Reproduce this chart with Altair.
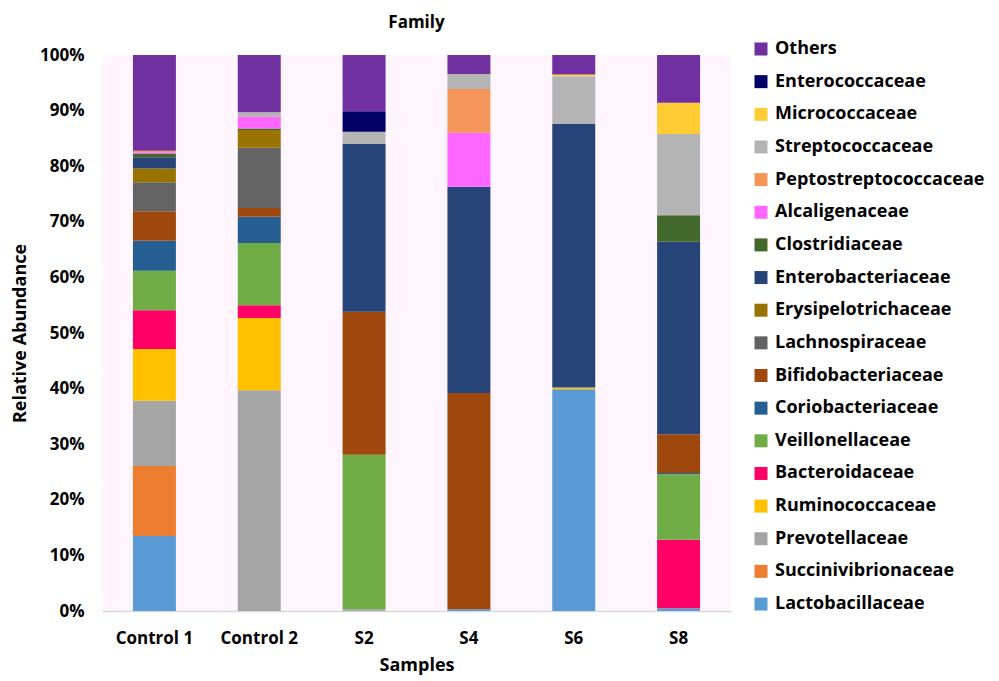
import altair as alt
import pandas as pd

samples = ["Control 1", "Control 2", "S2", "S4", "S6", "S8"]

# stacking order, bottom to top
families = [
    "Lactobacillaceae", "Succinivibrionaceae", "Prevotellaceae", "Ruminococcaceae",
    "Bacteroidaceae", "Veillonellaceae", "Coriobacteriaceae", "Bifidobacteriaceae",
    "Lachnospiraceae", "Erysipelotrichaceae", "Enterobacteriaceae", "Clostridiaceae",
    "Alcaligenaceae", "Peptostreptococcaceae", "Streptococcaceae", "Micrococcaceae",
    "Enterococcaceae", "Others",
]

Lactobacillaceae = [13.5, 0, 0, 0.3, 39.9, 0.5]
Succinivibrionaceae = [12.6, 0, 0, 0, 0, 0]
Prevotellaceae = [11.7, 39.7, 0.3, 0, 0, 0]
Ruminococcaceae = [9.3, 13.0, 0, 0, 0.3, 0]
Bacteroidaceae = [7.0, 2.3, 0, 0, 0, 12.3]
Veillonellaceae = [7.1, 11.2, 27.8, 0, 0, 11.8]
Coriobacteriaceae = [5.4, 4.7, 0, 0, 0, 0.2]
Bifidobacteriaceae = [5.3, 1.6, 25.7, 38.9, 0, 7.0]
Lachnospiraceae = [5.2, 10.8, 0, 0, 0, 0]
Erysipelotrichaceae = [2.5, 3.2, 0, 0, 0, 0]
Enterobacteriaceae = [2.0, 0, 30.2, 37.1, 47.4, 34.6]
Clostridiaceae = [0.7, 0.3, 0, 0, 0, 4.8]
Alcaligenaceae = [0.2, 2.1, 0, 9.7, 0, 0]
Peptostreptococcaceae = [0.3, 0, 0, 7.9, 0, 0]
Streptococcaceae = [0, 0.8, 2.2, 2.7, 8.6, 14.6]
Micrococcaceae = [0, 0, 0, 0, 0.3, 5.6]
Enterococcaceae = [0, 0, 3.7, 0, 0, 0]
Others = [17.2, 10.3, 10.1, 3.4, 3.5, 8.6]

values = [
    Lactobacillaceae, Succinivibrionaceae, Prevotellaceae, Ruminococcaceae,
    Bacteroidaceae, Veillonellaceae, Coriobacteriaceae, Bifidobacteriaceae,
    Lachnospiraceae, Erysipelotrichaceae, Enterobacteriaceae, Clostridiaceae,
    Alcaligenaceae, Peptostreptococcaceae, Streptococcaceae, Micrococcaceae,
    Enterococcaceae, Others,
]

colors = [
    "#5B9BD5", "#ED7D31", "#A5A5A5", "#FFC000",
    "#FF0066", "#70AD47", "#255E91", "#9E480E",
    "#636363", "#997300", "#264478", "#43682B",
    "#FF66FF", "#F4965A", "#B4B4B4", "#FFCC33",
    "#000066", "#7030A0",
]

rows = []
for i, (fam, vals) in enumerate(zip(families, values)):
    for s, v in zip(samples, vals):
        rows.append({"Sample": s, "Family": fam, "Value": v, "idx": i})
df = pd.DataFrame(rows)

FONT = "Open Sans"

chart = alt.Chart(df).mark_bar().encode(
    x=alt.X("Sample:N", sort=samples,
            scale=alt.Scale(paddingInner=0.59, paddingOuter=0.295),
            axis=alt.Axis(title="Samples", labelAngle=0, ticks=False, labelPadding=19,
                          labelFontSize=17, labelFont=FONT, labelFontWeight="bold",
                          labelColor="#000000", domainColor="#D9D9D9", domainWidth=1.5,
                          titleFontSize=18, titleFont=FONT, titleFontWeight="bold",
                          titleColor="#000000", titlePadding=10)),
    y=alt.Y("Value:Q", stack="zero",
            scale=alt.Scale(domain=[0, 100], nice=False),
            axis=alt.Axis(title="Relative Abundance", values=list(range(0, 101, 10)),
                          labelExpr="datum.value + '%'", grid=False, ticks=False,
                          domain=False, labelPadding=18, labelFontSize=17,
                          labelFont=FONT, labelFontWeight="bold", labelColor="#000000",
                          titleFontSize=18, titleFont=FONT, titleFontWeight="bold",
                          titleColor="#000000", titlePadding=10)),
    color=alt.Color("Family:N",
                    scale=alt.Scale(domain=families[::-1], range=colors[::-1]),
                    legend=alt.Legend(title=None, orient="none", legendX=650, legendY=-15,
                                      symbolType="square", symbolSize=169,
                                      symbolStrokeWidth=0, symbolOpacity=1,
                                      labelFontSize=18, labelFont=FONT,
                                      labelFontWeight="bold", labelColor="#000000",
                                      labelLimit=400, rowPadding=14.65, labelOffset=5,
                                      padding=0)),
    order=alt.Order("idx:Q", sort="ascending"),
).properties(
    width=629, height=556,
    title=alt.TitleParams("Family", fontSize=17, font=FONT, fontWeight="bold",
                          color="#000000", anchor="middle", frame="group", offset=8),
    autosize=alt.AutoSizeParams(type="none"),
    padding={"left": 94, "top": 47, "right": 260, "bottom": 68},
).configure_view(
    stroke=None, fill="#FEF5FE",
)

chart.save("out.html", embed_options={"renderer": "svg", "actions": False})
